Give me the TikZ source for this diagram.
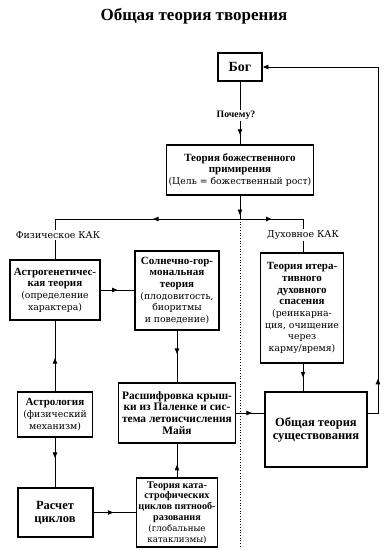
\documentclass[tikz,border=0pt]{standalone}
\usepackage{fontspec}
\setmainfont{Liberation Serif}
\newfontfamily\regf{DejaVu Serif}
\newcommand{\rg}[1]{{\regf\mdseries\fontsize{9.3}{11.5}\selectfont #1}}
\newcommand{\rgs}[1]{{\regf\mdseries\fontsize{8.7}{10.8}\selectfont #1}}
\usetikzlibrary{arrows.meta,decorations.markings}
\begin{document}
\begin{tikzpicture}[x=1pt,y=-1pt,
  box/.style={draw,line width=1.5pt,align=center,inner sep=0pt,font=\bfseries\fontsize{11}{11.7}\selectfont},
  ln/.style={line width=0.8pt},
  tip/.style={postaction={decorate},decoration={markings,mark=at position #1 with {\arrow{Triangle[length=5.5pt,width=4.5pt]}}}},
  lbl/.style={font=\regf\fontsize{9.4}{10}\selectfont,inner sep=1pt}]
\useasboundingbox (0,0) rectangle (387,550);
\node[font=\bfseries\fontsize{17}{19}\selectfont] (title) at (194,16) {Общая теория творения};
\node[box,minimum width=44pt,minimum height=28pt,line width=1.8pt,font=\bfseries\fontsize{14}{16}\selectfont] (god) at (240,67) {Бог};
\node[inner sep=1pt,font=\bfseries\fontsize{9.8}{10}\selectfont] (why) at (236,115) {Почему?};
\node[box,minimum width=147pt,minimum height=50pt] (recon) at (240,170) {Теория божественного\\примирения\\\rg{(Цель = божественный рост)}};
\coordinate (split) at (240,219);
\coordinate (lsplit) at (55,219);
\coordinate (rsplit) at (303,219);
\coordinate (dotend) at (240,548);
\node[lbl] (phys) at (58,235) {Физическое КАК};
\node[lbl] (spir) at (303,235) {Духовное КАК};
\node[box,minimum width=90pt,minimum height=60pt] (astro) at (55,290) {Астрогенетичес-\\кая теория\\\rg{(определение}\\\rg{характера)}};
\node[box,minimum width=84pt,minimum height=79pt] (solar) at (177,290.5) {Солнечно-гор-\\мональная\\теория\\\rg{(плодовитость,}\\\rg{биоритмы}\\\rg{и поведение)}};
\node[box,minimum width=83pt,minimum height=110pt] (iter) at (302,308) {Теория итера-\\тивного\\духовного\\спасения\\\rg{(реинкарна-}\\\rg{ция, очищение}\\\rg{через}\\\rg{карму/время)}};
\node[box,minimum width=75pt,minimum height=45pt] (astrol) at (55,414.5) {Астрология\\\rg{(физический}\\\rg{механизм)}};
\node[box,minimum width=117pt,minimum height=60pt,font=\bfseries\fontsize{11.4}{11.9}\selectfont] (decode) at (177,413) {Расшифровка крыш-\\ки из Паленке и сис-\\тема летоисчисления\\Майя};
\node[box,minimum width=102pt,minimum height=75pt,line width=2.5pt,font=\bfseries\fontsize{12.5}{13}\selectfont] (exist) at (316,429.5) {Общая теория\\существования};
\node[box,minimum width=75pt,minimum height=49pt,line width=2pt,font=\bfseries\fontsize{12.5}{13}\selectfont] (calc) at (55,512.5) {Расчет\\циклов};
\node[box,minimum width=81pt,minimum height=69pt,font=\bfseries\fontsize{10.2}{10.8}\selectfont] (cat) at (177,512.5) {Теория ката-\\строфических\\циклов пятнооб-\\разования\\\rgs{(глобальные}\\\rgs{катаклизмы)}};
\coordinate (fb) at (378,413);
% connectors
\draw[ln] (god.south) -- (god.south |- why.north);
\draw[ln,tip=0.6] (god.south |- why.south) -- (recon.north);
\draw[ln,tip=0.83] (recon.south) -- (split);
\draw[ln,tip=0.47] (split) -- (lsplit);
\draw[ln,tip=0.5] (split) -- (rsplit);
\draw[ln] (lsplit) -- (lsplit |- phys.north);
\draw[ln] (rsplit) -- (rsplit |- spir.north);
\draw[ln] (lsplit |- phys.south) -- (astro.north);
\draw[ln] (rsplit |- spir.south) -- (rsplit |- iter.north);
\draw[dotted,line width=0.7pt] (split) -- (dotend);
\draw[ln,tip=0.5] (astro.east) -- (astro.east -| solar.west);
\draw[ln,tip=0.45] (solar.south) -- (solar.south |- decode.north);
\draw[ln,tip=0.47] (astrol.north) -- (astro.south);
\draw[ln,tip=0.41] (astrol.south) -- (calc.north);
\draw[ln,tip=0.47] (calc.east) -- (calc.east -| cat.west);
\draw[ln,tip=0.37] (cat.north) -- (cat.north |- decode.south);
\draw[ln,tip=0.57] (decode.east) -- (decode.east -| exist.west);
\draw[ln,tip=0.5] (rsplit |- iter.south) -- (rsplit |- exist.north);
\draw[ln,tip=44pt,-{Triangle[length=5.5pt,width=4.5pt]}] (decode.east -| exist.east) -- (fb) |- (god.east);
\end{tikzpicture}
\end{document}
